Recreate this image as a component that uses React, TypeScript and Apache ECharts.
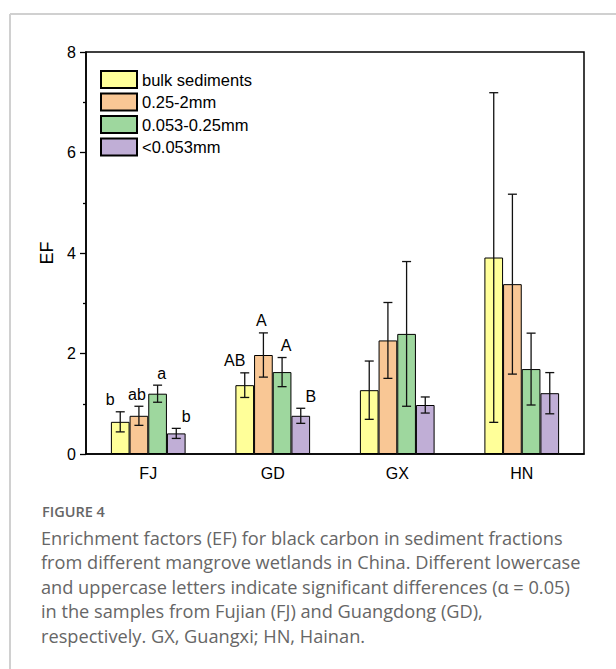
import React, { useEffect, useRef } from "react";
import * as echarts from "echarts";

const categories = ["FJ", "GD", "GX", "HN"];
const seriesNames = ["bulk sediments", "0.25-2mm", "0.053-0.25mm", "<0.053mm"];
const bulkMean = [0.64, 1.37, 1.27, 3.91];
const bulkErr = [0.2, 0.245, 0.58, 3.28];
const coarseMean = [0.76, 1.97, 2.26, 3.38];
const coarseErr = [0.19, 0.44, 0.755, 1.79];
const fineMean = [1.2, 1.63, 2.39, 1.69];
const fineErr = [0.17, 0.29, 1.44, 0.715];
const clayMean = [0.41, 0.76, 0.975, 1.21];
const clayErr = [0.1, 0.15, 0.16, 0.41];
const bulkLetters = ["b", "AB", "", ""];
const coarseLetters = ["ab", "A", "", ""];
const fineLetters = ["a", "A", "", ""];
const clayLetters = ["b", "B", "", ""];
const yTicks = [0, 2, 4, 6, 8];
const captionTitle = "FIGURE 4";
const captionLines = [
  "Enrichment factors (EF) for black carbon in sediment fractions",
  "from different mangrove wetlands in China. Different lowercase",
  "and uppercase letters indicate significant differences (\u03b1 = 0.05)",
  "in the samples from Fujian (FJ) and Guangdong (GD),",
  "respectively. GX, Guangxi; HN, Hainan.",
];

const colors = ["#FFFF99", "#F9C795", "#9ED79E", "#C0AED6"];
const letterDx = [-10, -2, 4, 10];

export default function App() {
  const ref = useRef<HTMLDivElement>(null);
  useEffect(() => {
    document.body.style.margin = "0";
    const chart = echarts.init(ref.current!, null, { renderer: "svg" });
    const means = [bulkMean, coarseMean, fineMean, clayMean];
    const errs = [bulkErr, coarseErr, fineErr, clayErr];
    const letters = [bulkLetters, coarseLetters, fineLetters, clayLetters];
    const font = "'Liberation Sans', Arial, sans-serif";
    const capFont = "'Open Sans', 'Noto Sans', sans-serif";

    const barSeries = seriesNames.map((name, i) => ({
      name,
      type: "bar",
      data: means[i],
      barGap: "0%",
      barCategoryGap: "40%",
      itemStyle: { color: colors[i], borderColor: "#000", borderWidth: 1 },
      z: 2,
    }));

    const errData: any[] = [];
    for (let s = 0; s < 4; s++) {
      for (let c = 0; c < categories.length; c++) {
        errData.push([c, means[s][c], errs[s][c], s]);
      }
    }

    const errSeries = {
      type: "custom",
      name: "err",
      data: errData,
      z: 5,
      renderItem: (params: any, api: any) => {
        const c = api.value(0);
        const m = api.value(1);
        const e = api.value(2);
        const s = api.value(3);
        const letter = letters[s][c];
        const band = api.size([1, 0])[0];
        const bw = (band * 0.6) / 4;
        const center = api.coord([c, m]);
        const x = center[0] + (s - 1.5) * bw;
        const top = api.coord([c, m + e])[1];
        const bot = api.coord([c, Math.max(m - e, 0)])[1];
        const cap = 4.5;
        const st = { stroke: "#111", lineWidth: 1.3 };
        const children: any[] = [
          { type: "line", shape: { x1: x, y1: top, x2: x, y2: bot }, style: st },
          { type: "line", shape: { x1: x - cap, y1: top, x2: x + cap, y2: top }, style: st },
          { type: "line", shape: { x1: x - cap, y1: bot, x2: x + cap, y2: bot }, style: st },
        ];
        if (letter) {
          children.push({
            type: "text",
            x: x + letterDx[s],
            y: top - 12,
            style: {
              text: letter,
              fontSize: 16,
              fontFamily: font,
              fill: "#000",
              align: "center",
              verticalAlign: "middle",
            },
          });
        }
        return { type: "group", children };
      },
    };

    const captionGraphics: any[] = captionLines.map((t, i) => ({
      type: "text",
      left: 41,
      top: 529 + i * 24.4,
      style: {
        text: t,
        fontSize: 18.2,
        fontFamily: capFont,
        fill: "#666",
      },
    }));

    chart.setOption({
      animation: false,
      legend: {
        orient: "vertical",
        left: 100,
        top: 70,
        padding: 0,
        itemWidth: 36,
        itemHeight: 17,
        itemGap: 3.5,
        icon: "rect",
        data: seriesNames,
        textStyle: { fontSize: 16.5, fontFamily: font, color: "#000" },
      },
      grid: {
        left: 86,
        right: 32,
        top: 52,
        bottom: 215,
        show: true,
        borderColor: "#000",
        borderWidth: 1.5,
        backgroundColor: "transparent",
      },
      xAxis: [
        {
          type: "category",
          data: categories,
          boundaryGap: true,
          axisLine: { lineStyle: { color: "#000", width: 1.5 } },
          axisTick: { alignWithLabel: true, length: 6, lineStyle: { color: "#000", width: 1.3 } },
          axisLabel: { fontSize: 16, fontFamily: font, color: "#000", margin: 11 },
        },
        {
          type: "category",
          data: categories,
          position: "bottom",
          boundaryGap: true,
          axisLine: { show: false },
          axisTick: { length: 3, lineStyle: { color: "#000", width: 1.3 } },
          axisLabel: { show: false },
        },
      ],
      yAxis: {
        type: "value",
        min: yTicks[0],
        max: yTicks[yTicks.length - 1],
        interval: 2,
        splitLine: { show: false },
        axisLine: { show: true, lineStyle: { color: "#000", width: 1.5 } },
        axisTick: { show: true, length: 6, lineStyle: { color: "#000", width: 1.3 } },
        minorTick: { show: true, splitNumber: 2, length: 3, lineStyle: { color: "#000", width: 1.3 } },
        axisLabel: { fontSize: 16, fontFamily: font, color: "#000", margin: 10 },
      },
      series: [...barSeries, errSeries],
      graphic: [
        {
          type: "line",
          shape: { x1: 10, y1: 14, x2: 616, y2: 14 },
          style: { stroke: "#d0d0d0", lineWidth: 2 },
        },
        {
          type: "line",
          shape: { x1: 10, y1: 14, x2: 10, y2: 669 },
          style: { stroke: "#d0d0d0", lineWidth: 2 },
        },
        {
          type: "text",
          x: 47,
          y: 253,
          rotation: Math.PI / 2,
          style: {
            text: "EF",
            fontSize: 18,
            fontFamily: font,
            fill: "#000",
            align: "center",
            verticalAlign: "middle",
          },
        },
        {
          type: "text",
          left: 42,
          top: 504,
          style: {
            text: captionTitle,
            fontSize: 14.5,
            fontWeight: 600,
            fontFamily: capFont,
            fill: "#666",
          },
        },
        ...captionGraphics,
      ],
    });
    return () => chart.dispose();
  }, []);
  return <div ref={ref} style={{ width: 616, height: 669 }} />;
}
